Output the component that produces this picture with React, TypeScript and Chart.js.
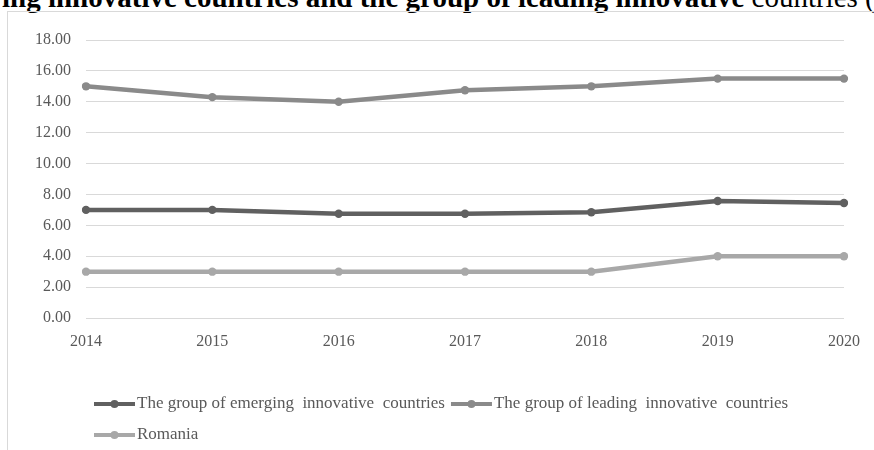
import React, { useEffect, useRef } from 'react';
import { Chart, registerables } from 'chart.js';

Chart.register(...registerables);

const years = ['2014', '2015', '2016', '2017', '2018', '2019', '2020'];
const emergingValues = [7.0, 7.0, 6.75, 6.75, 6.85, 7.58, 7.45];
const leadingValues = [15.0, 14.3, 14.0, 14.75, 15.0, 15.5, 15.5];
const romaniaValues = [3.0, 3.0, 3.0, 3.0, 3.0, 4.0, 4.0];
const seriesLabels = [
  'The group of emerging  innovative  countries',
  'The group of leading  innovative  countries',
  'Romania',
];
const seriesColors = ['#606060', '#8a8a8a', '#a8a8a8'];
const titleBold = 'ing innovative countries and the group of leading innovative';
const titleRegular = ' countries (';
const yMin = 0;
const yMax = 18;
const yStep = 2;

const FONT = '"Liberation Serif", "Times New Roman", serif';
const TEXT_COLOR = '#595959';

const legendPlugin = {
  id: 'excelLegend',
  afterDraw(chart: any) {
    const { ctx, chartArea } = chart;
    ctx.save();
    ctx.font = `17px ${FONT}`;
    ctx.textBaseline = 'middle';
    ctx.textAlign = 'left';
    const startX = chartArea.left + 8;
    let x = startX;
    let y = chartArea.bottom + 86;
    const lineLen = 41;
    chart.data.datasets.forEach((ds: any) => {
      const label = ds.label as string;
      const w = lineLen + 2 + ctx.measureText(label).width;
      if (x + w > chartArea.right && x > startX) {
        x = startX;
        y += 31;
      }
      ctx.strokeStyle = ds.borderColor;
      ctx.lineWidth = 4;
      ctx.lineCap = 'butt';
      ctx.beginPath();
      ctx.moveTo(x, y);
      ctx.lineTo(x + lineLen, y);
      ctx.stroke();
      ctx.fillStyle = ds.borderColor;
      ctx.beginPath();
      ctx.arc(x + lineLen / 2, y, 4, 0, Math.PI * 2);
      ctx.fill();
      ctx.fillStyle = TEXT_COLOR;
      ctx.fillText(label, x + lineLen + 2, y);
      x += w + 6;
    });
    ctx.restore();
  },
};

export default function App() {
  const canvasRef = useRef<HTMLCanvasElement | null>(null);

  useEffect(() => {
    if (!canvasRef.current) return;
    const values = [emergingValues, leadingValues, romaniaValues];
    const chart = new Chart(canvasRef.current, {
      type: 'line',
      data: {
        labels: years,
        datasets: values.map((v, i) => ({
          label: seriesLabels[i],
          data: v,
          borderColor: seriesColors[i],
          backgroundColor: seriesColors[i],
          pointBackgroundColor: seriesColors[i],
          pointBorderColor: seriesColors[i],
          borderWidth: 4.5,
          pointRadius: 4.2,
          pointBorderWidth: 0,
          tension: 0,
          fill: false,
        })),
      },
      options: {
        animation: false,
        responsive: false,
        devicePixelRatio: 1,
        layout: { padding: { top: 28, right: 20, left: 0, bottom: 0 } },
        plugins: {
          legend: { display: false },
          tooltip: { enabled: false },
          title: { display: false },
        },
        scales: {
          x: {
            offset: false,
            grid: { display: false, drawTicks: false },
            border: { display: false },
            ticks: {
              color: TEXT_COLOR,
              font: { family: FONT, size: 16 },
              padding: 14,
              maxRotation: 0,
              autoSkip: false,
            },
            afterFit(scale: any) {
              scale.height = 132;
            },
          },
          y: {
            min: yMin,
            max: yMax,
            grid: { color: '#d9d9d9', lineWidth: 1, drawTicks: false },
            border: { display: false },
            ticks: {
              stepSize: yStep,
              color: TEXT_COLOR,
              font: { family: FONT, size: 16 },
              padding: 15,
              callback: (v: any) => Number(v).toFixed(2),
            },
            afterFit(scale: any) {
              scale.width = 78;
            },
          },
        },
      },
      plugins: [legendPlugin],
    });
    return () => chart.destroy();
  }, []);

  return (
    <div
      style={{
        position: 'fixed',
        left: 0,
        top: 0,
        width: 874,
        height: 450,
        overflow: 'hidden',
        background: '#ffffff',
      }}
    >
      <div
        style={{
          position: 'absolute',
          left: 2,
          top: -17,
          whiteSpace: 'pre',
          fontFamily: FONT,
          fontSize: 29,
          lineHeight: '29px',
          color: '#000000',
        }}
      >
        <span style={{ fontWeight: 'bold' }}>{titleBold}</span>
        <span>{titleRegular}</span>
      </div>
      <div
        style={{
          position: 'absolute',
          left: 7,
          top: 11,
          width: 920,
          height: 480,
          border: '1px solid #d9d9d9',
          boxSizing: 'border-box',
        }}
      />
      <canvas
        ref={canvasRef}
        width={866}
        height={438}
        style={{ position: 'absolute', left: 8, top: 12, width: 866, height: 438 }}
      />
    </div>
  );
}
